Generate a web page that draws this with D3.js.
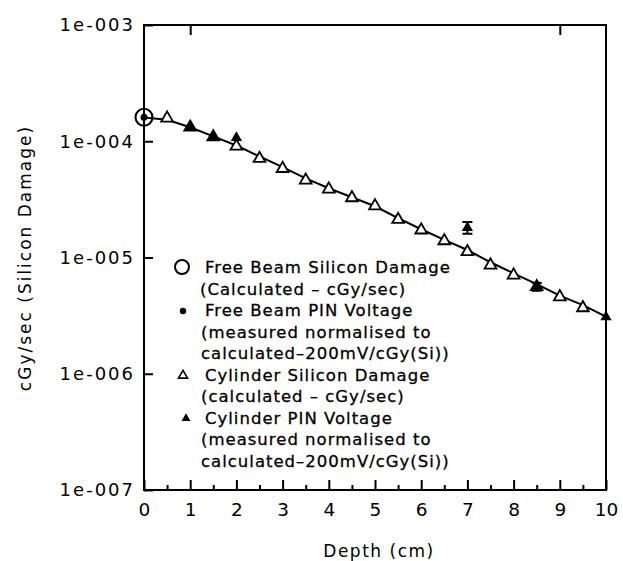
<!DOCTYPE html>
<html><head><meta charset="utf-8">
<script src="https://cdn.jsdelivr.net/npm/d3@7"></script>
<style>
html,body{margin:0;padding:0;background:#fff;}
svg text{font-family:"DejaVu Sans",sans-serif;fill:#000;}
</style></head>
<body><svg id="c" width="623" height="561"></svg>
<script>
// ---- data ----
const xTicks = [0,1,2,3,4,5,6,7,8,9,10];
const xMinorTicks = [0.5,1.5,2.5,3.5,4.5,5.5,6.5,7.5,8.5,9.5];
const yTicks = [1e-7,1e-6,1e-5,1e-4,1e-3];
const yTickLabels = ["1e-007","1e-006","1e-005","1e-004","1e-003"];
const topTicks = [1,9];

// calculated curve
const lineX = [0,0.5,1,1.5,2,2.5,3,3.5,4,4.5,5,5.5,6,6.5,7,7.5,8,8.5,9,9.5,10];
const lineY = [1.60e-4,1.53e-4,1.32e-4,1.10e-4,9.2e-5,7.4e-5,5.98e-5,4.8e-5,3.94e-5,3.30e-5,2.76e-5,2.18e-5,1.75e-5,1.42e-5,1.16e-5,9.1e-6,7.3e-6,5.9e-6,4.7e-6,3.9e-6,3.1e-6];

// Free beam
const freeCalcX = [0];
const freeCalcY = [1.61e-4];
const freePinX = [0];
const freePinY = [1.61e-4];

// Cylinder silicon damage (open triangles)
const cylCalcX = [0.5,1,1.5,2,2.5,3,3.5,4,4.5,5,5.5,6,6.5,7,7.5,8,8.5,9,9.5];
const cylCalcY = [1.58e-4,1.32e-4,1.09e-4,9.06e-5,7.1e-5,5.82e-5,4.62e-5,3.87e-5,3.26e-5,2.78e-5,2.12e-5,1.72e-5,1.39e-5,1.12e-5,8.59e-6,7.05e-6,5.6e-6,4.58e-6,3.69e-6];

// Cylinder PIN voltage (filled triangles)
const cylPinX = [1,1.5,2,7,8.5,10];
const cylPinY = [1.33e-4,1.09e-4,1.07e-4,1.80e-5,5.59e-6,3.08e-6];
const errX = [7,8.5];
const errLow = [1.60e-5,5.17e-6];
const errHigh = [2.02e-5,6.05e-6];

const legendLines = [
  "Free Beam Silicon Damage",
  "(Calculated \u2013 cGy/sec)",
  "Free Beam PIN Voltage",
  "(measured normalised to",
  "calculated\u2013200mV/cGy(Si))",
  "Cylinder Silicon Damage",
  "(calculated \u2013 cGy/sec)",
  "Cylinder PIN Voltage",
  "(measured normalised to",
  "calculated\u2013200mV/cGy(Si))"
];

// ---- drawing ----
const svg = d3.select("#c");
const L=144, R=606, T=25, B=490;
const x = d3.scaleLinear().domain([0,10]).range([L,R]);
const y = d3.scaleLog().domain([1e-7,1e-3]).range([B,T]);

// frame
svg.append("rect").attr("x",L).attr("y",T).attr("width",R-L).attr("height",B-T)
  .attr("fill","none").attr("stroke","#000").attr("stroke-width",2);

// bottom axis
const gx = svg.append("g").attr("transform",`translate(0,${B})`)
  .call(d3.axisBottom(x).tickValues(xTicks).tickFormat(d=>String(d)).tickSizeInner(-10).tickSizeOuter(0).tickPadding(13));
gx.select(".domain").remove();
gx.selectAll("line").attr("stroke-width",2);
gx.selectAll("text").attr("font-size",18.5).attr("font-family","DejaVu Sans");
const gxm = svg.append("g").attr("transform",`translate(0,${B})`)
  .call(d3.axisBottom(x).tickValues(xMinorTicks).tickFormat("").tickSizeInner(-5).tickSizeOuter(0));
gxm.select(".domain").remove();
gxm.selectAll("line").attr("stroke-width",2);

// top ticks
const gt = svg.append("g").attr("transform",`translate(0,${T})`)
  .call(d3.axisTop(x).tickValues(topTicks).tickFormat("").tickSizeInner(-10).tickSizeOuter(0));
gt.select(".domain").remove();
gt.selectAll("line").attr("stroke-width",2);

// left axis
const gy = svg.append("g").attr("transform",`translate(${L},0)`)
  .call(d3.axisLeft(y).tickValues(yTicks).tickFormat((d,i)=>yTickLabels[i]).tickSizeInner(-9).tickSizeOuter(0).tickPadding(9));
gy.select(".domain").remove();
gy.selectAll("line").attr("stroke-width",2);
gy.selectAll("text").attr("font-size",18).attr("font-family","DejaVu Sans").attr("letter-spacing","2px");

// axis titles
svg.append("text").attr("x",379).attr("y",557).attr("text-anchor","middle")
  .attr("font-size",17).attr("letter-spacing","1.5px").text("Depth (cm)");
svg.append("text").attr("transform","translate(31,258) rotate(-90)").attr("text-anchor","middle")
  .attr("font-size",17).attr("letter-spacing","2px").text("cGy/sec (Silicon Damage)");

// curve
const lineData = lineX.map((d,i)=>[d,lineY[i]]);
svg.append("path").datum(lineData)
  .attr("d",d3.line().x(d=>x(d[0])).y(d=>y(d[1])))
  .attr("fill","none").attr("stroke","#000").attr("stroke-width",2);

const triOpen = d3.symbol().type(d3.symbolTriangle).size(60);
const triFill = d3.symbol().type(d3.symbolTriangle).size(55);

// open triangles
svg.append("g").selectAll("path").data(cylCalcX.map((d,i)=>[d,cylCalcY[i]])).join("path")
  .attr("transform",d=>`translate(${x(d[0])},${y(d[1])})`)
  .attr("d",triOpen).attr("fill","#fff").attr("stroke","#000").attr("stroke-width",1.8);

// error bars
errX.forEach((xv,i)=>{
  const g = svg.append("g").attr("stroke","#000").attr("stroke-width",2);
  g.append("line").attr("x1",x(xv)).attr("x2",x(xv)).attr("y1",y(errLow[i])).attr("y2",y(errHigh[i]));
  g.append("line").attr("x1",x(xv)-5).attr("x2",x(xv)+5).attr("y1",y(errLow[i])).attr("y2",y(errLow[i]));
  g.append("line").attr("x1",x(xv)-5).attr("x2",x(xv)+5).attr("y1",y(errHigh[i])).attr("y2",y(errHigh[i]));
});

// filled triangles
svg.append("g").selectAll("path").data(cylPinX.map((d,i)=>[d,cylPinY[i]])).join("path")
  .attr("transform",d=>`translate(${x(d[0])},${y(d[1])})`)
  .attr("d",triFill).attr("fill","#000");

// free beam
svg.append("g").selectAll("circle").data(freeCalcX.map((d,i)=>[d,freeCalcY[i]])).join("circle")
  .attr("cx",d=>x(d[0])).attr("cy",d=>y(d[1])).attr("r",8.5)
  .attr("fill","none").attr("stroke","#000").attr("stroke-width",2);
svg.append("g").selectAll("circle").data(freePinX.map((d,i)=>[d,freePinY[i]])).join("circle")
  .attr("cx",d=>x(d[0])).attr("cy",d=>y(d[1])).attr("r",3.5).attr("fill","#000");

// legend
const lg = svg.append("g");
const lineYs = legendLines.map((_,i)=>268+i*21.5);
const indents = [205,200,205,201,201,205,201,205,201,201];
lg.selectAll("text").data(legendLines).join("text")
  .attr("x",(d,i)=>indents[i]).attr("y",(d,i)=>lineYs[i]+5)
  .attr("font-size",16.5).attr("letter-spacing","1px")
  .attr("stroke","#000").attr("stroke-width",0.3).text(d=>d);
lg.append("circle").attr("cx",182).attr("cy",lineYs[0]-1).attr("r",7)
  .attr("fill","none").attr("stroke","#000").attr("stroke-width",2);
lg.append("circle").attr("cx",183).attr("cy",lineYs[2]).attr("r",3.2).attr("fill","#000");
lg.append("path").attr("transform",`translate(183,${lineYs[5]})`).attr("d",d3.symbol().type(d3.symbolTriangle).size(35))
  .attr("fill","#fff").attr("stroke","#000").attr("stroke-width",1.6);
lg.append("path").attr("transform",`translate(186,${lineYs[7]})`).attr("d",d3.symbol().type(d3.symbolTriangle).size(35))
  .attr("fill","#000");
</script></body></html>
